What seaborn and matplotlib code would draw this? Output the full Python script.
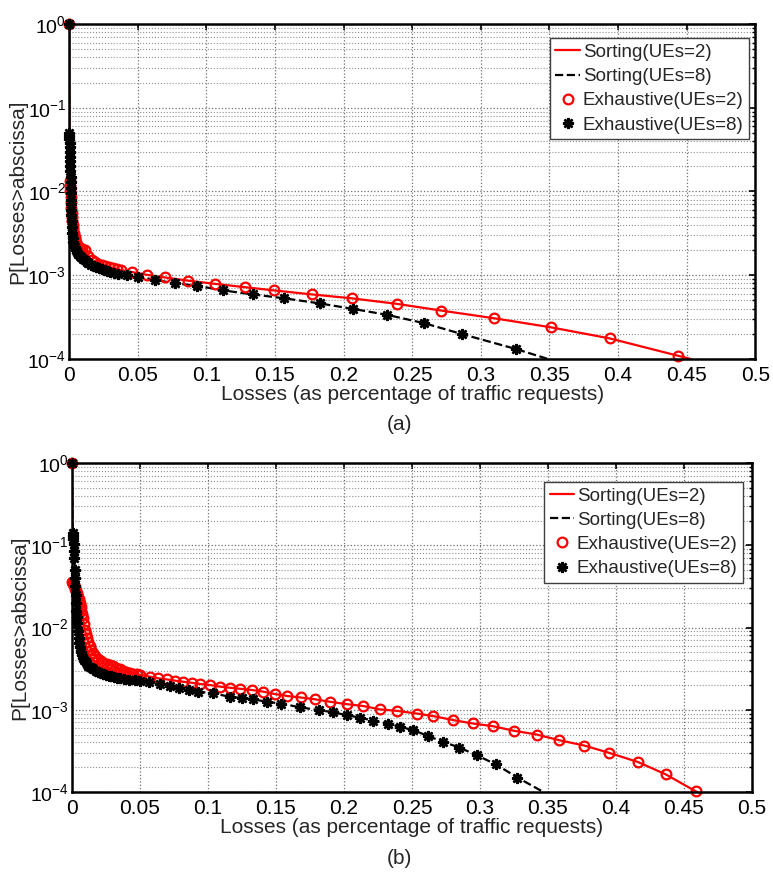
import matplotlib
matplotlib.use("Agg")
import matplotlib.pyplot as plt
import matplotlib.ticker as mticker
import seaborn as sns

# ---- panel (a) ----
# last point of each list is where the Sorting line leaves the axes (no marker there)
a_ue2_x = [0, 0.0005, 0.0008, 0.001, 0.0013, 0.0015, 0.0018, 0.002, 0.0023, 0.0025, 0.0028,
           0.003, 0.0035, 0.004, 0.0045, 0.005, 0.006, 0.007, 0.008, 0.0095, 0.0117, 0.014,
           0.0165, 0.019, 0.0214, 0.0237, 0.026, 0.029, 0.032, 0.035, 0.038, 0.046, 0.057,
           0.070, 0.087, 0.106, 0.128, 0.149, 0.177, 0.206, 0.239, 0.271, 0.310, 0.351,
           0.394, 0.444, 0.453]
a_ue2_y = [1, 0.0135, 0.0115, 0.010, 0.0087, 0.0075, 0.0064, 0.0056, 0.005, 0.0045, 0.004,
           0.0037, 0.0032, 0.0029, 0.0027, 0.0025, 0.0023, 0.0022, 0.0021, 0.00205, 0.002,
           0.0017, 0.0015, 0.00143, 0.00138, 0.00134, 0.0013, 0.00125, 0.00121, 0.00118,
           0.00115, 0.00109, 0.00101, 0.00094, 0.00086, 0.00079, 0.00072, 0.00066, 0.00059,
           0.00053, 0.000455, 0.000379, 0.000306, 0.000239, 0.000176, 0.000109, 0.0001]
a_ue8_x = [0, 0.0001, 0.0002, 0.0003, 0.0004, 0.0005, 0.0006, 0.0007, 0.0008, 0.0009, 0.001,
           0.0011, 0.0012, 0.0013, 0.0014, 0.0015, 0.0016, 0.0017, 0.0018, 0.0019, 0.002,
           0.0023, 0.0027, 0.0032, 0.004, 0.005, 0.0058, 0.0068, 0.0078, 0.009, 0.010,
           0.0115, 0.0128, 0.0141, 0.016, 0.018, 0.020, 0.022, 0.024, 0.026, 0.028, 0.030,
           0.033, 0.036, 0.042, 0.0505, 0.0627, 0.0773, 0.093, 0.112, 0.134, 0.157, 0.183,
           0.207, 0.232, 0.259, 0.286, 0.326, 0.349]
a_ue8_y = [1, 0.05, 0.046, 0.042, 0.038, 0.034, 0.030, 0.026, 0.023, 0.020, 0.0175,
           0.015, 0.013, 0.011, 0.0095, 0.008, 0.007, 0.006, 0.0052, 0.0045, 0.0038,
           0.0032, 0.0028, 0.0025, 0.0022, 0.00198, 0.00188, 0.0018, 0.00172, 0.00165, 0.00158,
           0.0015, 0.00145, 0.0014, 0.00134, 0.00128, 0.00124, 0.00121, 0.00118, 0.00115,
           0.00112, 0.0011, 0.00107, 0.00104, 0.001, 0.00096, 0.00088, 0.0008, 0.00075,
           0.00066, 0.00059, 0.00053, 0.00046, 0.000396, 0.000336, 0.000267, 0.000199,
           0.000131, 0.0001]

# ---- panel (b) ----
b_ue2_x = [0, 0.0003, 0.0006, 0.001, 0.0015, 0.002, 0.0025, 0.003, 0.0035, 0.004, 0.0045,
           0.005, 0.0055, 0.006, 0.0065, 0.007, 0.0075, 0.008, 0.0088, 0.0096, 0.0103, 0.011,
           0.012, 0.013, 0.0143, 0.0157, 0.017, 0.019, 0.021, 0.023, 0.0255, 0.028, 0.030,
           0.0325, 0.035, 0.0375, 0.040, 0.0425, 0.045, 0.0475, 0.050, 0.0574, 0.0635,
           0.0696, 0.0757, 0.0819, 0.088, 0.0941, 0.1015, 0.1088, 0.1162, 0.1235, 0.1321,
           0.1407, 0.1493, 0.1583, 0.1681, 0.1787, 0.1897, 0.202, 0.2142, 0.2265, 0.2387,
           0.2534, 0.2657, 0.2804, 0.2946, 0.3093, 0.3252, 0.3417, 0.3583, 0.3767, 0.395,
           0.416, 0.4365, 0.4586, 0.4600]
b_ue2_y = [1, 0.036, 0.035, 0.034, 0.0325, 0.031, 0.0295, 0.028, 0.0265, 0.025, 0.0235,
           0.022, 0.021, 0.0197, 0.018, 0.016, 0.0145, 0.013, 0.011, 0.0093, 0.0083, 0.0075,
           0.0067, 0.006, 0.0054, 0.0049, 0.0045, 0.0041, 0.0039, 0.0037, 0.0036, 0.0035,
           0.0034, 0.0032, 0.0031, 0.003, 0.0029, 0.0028, 0.00275, 0.0027, 0.00265, 0.00253,
           0.00241, 0.00234, 0.00226, 0.00219, 0.00213, 0.00206, 0.0020, 0.00191, 0.00185,
           0.0018, 0.00174, 0.00166, 0.00155, 0.00147, 0.00141, 0.00134, 0.00125, 0.00117,
           0.00111, 0.00101, 0.00097, 0.0009, 0.000837, 0.000748, 0.000681, 0.000632,
           0.000554, 0.0005, 0.000426, 0.000367, 0.000299, 0.000232, 0.000164, 0.000102,
           0.0001]
b_ue8_x = [0, 0.0005, 0.0008, 0.001, 0.0012, 0.0015, 0.0017, 0.002, 0.0022, 0.0025, 0.0028,
           0.003, 0.0033, 0.0036, 0.004, 0.0045, 0.005, 0.0055, 0.006, 0.0068, 0.0075,
           0.0083, 0.009, 0.010, 0.011, 0.012, 0.013, 0.0145, 0.0157, 0.0175, 0.019, 0.021,
           0.023, 0.025, 0.027, 0.029, 0.031, 0.033, 0.0353, 0.038, 0.042, 0.046, 0.050,
           0.057, 0.0647, 0.072, 0.079, 0.086, 0.0929, 0.1039, 0.116, 0.125, 0.1333, 0.1431,
           0.154, 0.1676, 0.1818, 0.192, 0.202, 0.212, 0.2216, 0.2326, 0.241, 0.251, 0.262,
           0.273, 0.2848, 0.2976, 0.3118, 0.3275, 0.3466]
b_ue8_y = [1, 0.14, 0.13, 0.12, 0.105, 0.085, 0.07, 0.05, 0.04, 0.032, 0.025,
           0.02, 0.016, 0.0135, 0.0115, 0.009, 0.0075, 0.0065, 0.0058, 0.0051, 0.0046,
           0.0043, 0.004, 0.0038, 0.0036, 0.00345, 0.0033, 0.0032, 0.0031, 0.003, 0.0029,
           0.0028, 0.0027, 0.00265, 0.0026, 0.00255, 0.0025, 0.00245, 0.0024, 0.00236,
           0.00233, 0.00228, 0.00224, 0.00215, 0.00206, 0.00194, 0.00182, 0.00174, 0.00166,
           0.00158, 0.00144, 0.00139, 0.00134, 0.00125, 0.00119, 0.00107, 0.00099, 0.00093,
           0.00086, 0.0008, 0.000735, 0.00068, 0.00062, 0.000565, 0.000478, 0.000407,
           0.000347, 0.00028, 0.000216, 0.00015, 0.0001]

x_ticks = [0, 0.05, 0.1, 0.15, 0.2, 0.25, 0.3, 0.35, 0.4, 0.45, 0.5]
x_tick_labels = ["0", "0.05", "0.1", "0.15", "0.2", "0.25", "0.3", "0.35", "0.4", "0.45", "0.5"]
series_labels = ["Sorting(UEs=2)", "Sorting(UEs=8)", "Exhaustive(UEs=2)", "Exhaustive(UEs=8)"]

sns.set_theme(style="white")
plt.rcParams["font.family"] = ["Liberation Sans", "DejaVu Sans"]
plt.rcParams["mathtext.default"] = "regular"
FS = 15
LEG_FS = 13.5


def draw_panel(ax, ue2_x, ue2_y, ue8_x, ue8_y, leg_anchor, ylab_x):
    sns.lineplot(x=ue2_x, y=ue2_y, ax=ax, color="red", lw=1.6, estimator=None,
                 sort=False, label=series_labels[0])
    sns.lineplot(x=ue8_x, y=ue8_y, ax=ax, color="black", lw=1.6, linestyle="--",
                 estimator=None, sort=False, label=series_labels[1])
    sns.lineplot(x=ue2_x[:-1], y=ue2_y[:-1], ax=ax, estimator=None, sort=False,
                 linestyle="", marker="o", ms=7, mew=1.6, markerfacecolor="none",
                 markeredgecolor="red", color="red", clip_on=False, label=series_labels[2])
    sns.lineplot(x=ue8_x[:-1], y=ue8_y[:-1], ax=ax, estimator=None, sort=False,
                 linestyle="", marker=(8, 2, 0), ms=8, mew=1.8, markeredgecolor="black",
                 color="black", clip_on=False, label=series_labels[3])

    ax.set_yscale("log")
    ax.set_xlim(0, 0.5)
    ax.set_ylim(1e-4, 1)
    ax.set_xticks(x_ticks)
    ax.set_xticklabels(x_tick_labels)
    ax.yaxis.set_major_locator(mticker.LogLocator(base=10, numticks=10))
    ax.yaxis.set_minor_locator(mticker.LogLocator(base=10, subs=range(2, 10), numticks=20))
    ax.yaxis.set_minor_formatter(mticker.NullFormatter())
    ax.grid(True, which="major", linestyle=":", color="#707070", lw=0.9)
    ax.grid(True, which="minor", axis="y", linestyle=":", color="#909090", lw=0.8)
    ax.tick_params(which="both", direction="in", top=True, right=True,
                   labelsize=FS, colors="black", pad=5)
    ax.tick_params(axis="y", which="major", labelsize=14, pad=2)
    ax.tick_params(which="major", length=4, width=1.2)
    ax.tick_params(which="minor", length=2.5, width=1.0)
    for sp in ax.spines.values():
        sp.set_color("black")
        sp.set_linewidth(1.8)

    ax.set_xlabel("Losses (as percentage of traffic requests)", fontsize=FS, labelpad=0)
    ax.set_ylabel("P[Losses>abscissa]", fontsize=FS)
    ax.yaxis.set_label_coords(ylab_x, 0.5)

    leg = ax.legend(loc="upper right", bbox_to_anchor=leg_anchor, borderaxespad=0,
                    fontsize=LEG_FS, frameon=True, fancybox=False, handlelength=1.3,
                    handletextpad=0.15, labelspacing=0.38, borderpad=0.3)
    leg.get_frame().set_edgecolor("#404040")
    leg.get_frame().set_linewidth(1.0)
    leg.get_frame().set_alpha(1)


fig = plt.figure(figsize=(7.73, 8.73), dpi=100)
ax_a = fig.add_axes([0.0893, 0.5888, 0.8877, 0.3837])
ax_b = fig.add_axes([0.0931, 0.0928, 0.8797, 0.3768])

draw_panel(ax_a, a_ue2_x, a_ue2_y, a_ue8_x, a_ue8_y, (0.991, 0.958), -0.061)
draw_panel(ax_b, b_ue2_x, b_ue2_y, b_ue8_x, b_ue8_y, (0.987, 0.943), -0.063)

fig.text(0.517, 1 - 424 / 873, "(a)", ha="center", va="center", fontsize=FS)
fig.text(0.517, 1 - 859 / 873, "(b)", ha="center", va="center", fontsize=FS)

fig.savefig("out.png", dpi=100, facecolor="white")
